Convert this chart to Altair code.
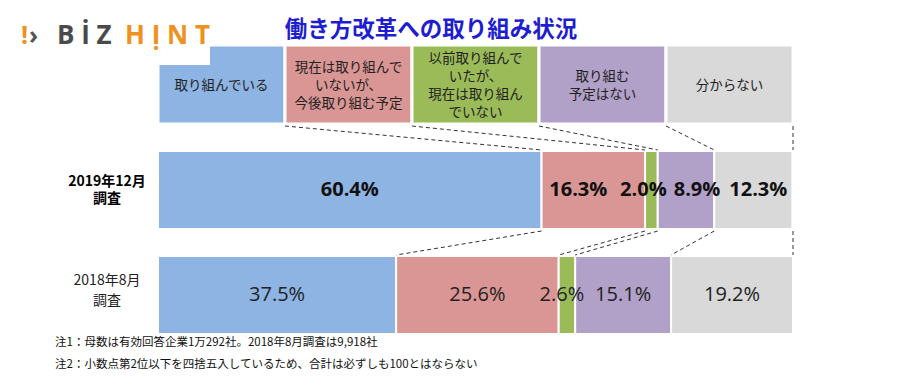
import altair as alt
import pandas as pd
import numpy as np

# ---------------- data ----------------
category_labels = [
    "取り組んでいる",
    "現在は取り組んで\nいないが、\n今後取り組む予定",
    "以前取り組んで\nいたが、\n現在は取り組ん\nでいない",
    "取り組む\n予定はない",
    "分からない",
]
colors = ["#8db4e2", "#da9694", "#9bbb59", "#b1a0c7", "#d9d9d9"]
surveys = ["2019年12月\n調査", "2018年8月\n調査"]
values_2019 = [60.4, 16.3, 2.0, 8.9, 12.3]
values_2018 = [37.5, 25.6, 2.6, 15.1, 19.2]
title_text = "働き方改革への取り組み状況"
notes = [
    "注1：母数は有効回答企業1万292社。2018年8月調査は9,918社",
    "注2：小数点第2位以下を四捨五入しているため、合計は必ずしも100とはならない",
]

# ---------------- layout (vertical band positions, in y-scale units) ----------------
LEG = (5, 84)
R19 = (111, 189)
R18 = (216, 294)
LEG_LH = 18
cats = [f"c{i}" for i in range(5)]

xs = alt.Scale(domain=[0, 100], nice=False, zero=False)
ys = alt.Scale(domain=[0, 300], reverse=True, nice=False, zero=False)
cs = alt.Scale(domain=cats, range=colors)


def first_line_y(label, center, lh):
    n = label.count("\n") + 1
    return center - (n - 1) * lh / 2


# legend boxes
leg_df = pd.DataFrame({
    "cat": cats,
    "label": category_labels,
    "x0": [i * 20 for i in range(5)],
    "x1": [(i + 1) * 20 for i in range(5)],
    "y0": LEG[0], "y1": LEG[1],
})
leg_df["xm"] = (leg_df.x0 + leg_df.x1) / 2
leg_df["ym"] = [first_line_y(l, (LEG[0] + LEG[1]) / 2 + 1, LEG_LH) for l in category_labels]

# bars
rows = []
for s_idx, (vals, (r0, r1)) in enumerate([(values_2019, R19), (values_2018, R18)]):
    cum = np.concatenate([[0], np.cumsum(vals)])
    for i, v in enumerate(vals):
        rows.append({"survey": s_idx, "cat": cats[i], "idx": i, "x0": cum[i], "x1": cum[i + 1],
                     "xm": (cum[i] + cum[i + 1]) / 2, "y0": r0, "y1": r1, "ym": (r0 + r1) / 2,
                     "txt": f"{v:.1f}%"})
bar_df = pd.DataFrame(rows)

cum19 = np.cumsum(values_2019)
cum18 = np.cumsum(values_2018)
line_rows = []
for i in range(4):
    line_rows.append({"xa": (i + 1) * 20, "xb": cum19[i], "ya": LEG[1] + 2, "yb": R19[0] - 1})
    line_rows.append({"xa": cum19[i], "xb": cum18[i], "ya": R19[1] + 2, "yb": R18[0] - 1})
line_rows.append({"xa": 100, "xb": 100, "ya": LEG[1] + 2, "yb": R19[0] - 1})
line_rows.append({"xa": 100, "xb": 100, "ya": R19[1] + 2, "yb": R18[0] - 1})
line_df = pd.DataFrame(line_rows)

one = pd.DataFrame({"a": [0]})

# ---------------- marks ----------------
leg_rect = alt.Chart(leg_df).mark_rect(stroke="white", strokeWidth=3).encode(
    x=alt.X("x0:Q", scale=xs, axis=None), x2="x1:Q",
    y=alt.Y("y0:Q", scale=ys, axis=None), y2="y1:Q",
    color=alt.Color("cat:N", scale=cs, legend=None),
)
leg_text = alt.Chart(leg_df).mark_text(
    font="Noto Sans CJK JP", fontSize=13.5, color="#222222", lineBreak="\n", lineHeight=LEG_LH,
    align="center", baseline="middle",
).encode(
    x=alt.X("xm:Q", scale=xs, axis=None), y=alt.Y("ym:Q", scale=ys, axis=None), text="label:N",
)

bars = alt.Chart(bar_df).mark_rect(stroke="white", strokeWidth=2).encode(
    x=alt.X("x0:Q", scale=xs, axis=None), x2="x1:Q",
    y=alt.Y("y0:Q", scale=ys, axis=None), y2="y1:Q",
    color=alt.Color("cat:N", scale=cs, legend=None),
)

lines = alt.Chart(line_df).mark_rule(color="#333333", strokeDash=[4, 3], strokeWidth=1).encode(
    x=alt.X("xa:Q", scale=xs, axis=None), x2="xb:Q",
    y=alt.Y("ya:Q", scale=ys, axis=None), y2="yb:Q",
)


def value_text(data_filter, bold, dx=0):
    return alt.Chart(bar_df).transform_filter(data_filter).mark_text(
        font="Open Sans", fontSize=20, fontWeight="bold" if bold else "normal",
        color="#111111" if bold else "#222222", align="center", baseline="middle", dx=dx,
    ).encode(
        x=alt.X("xm:Q", scale=xs, axis=None), y=alt.Y("ym:Q", scale=ys, axis=None), text="txt:N",
    )


vt = [
    value_text("datum.survey == 0 && datum.idx == 0", True),
    value_text("datum.survey == 0 && datum.idx == 1", True, -15),
    value_text("datum.survey == 0 && datum.idx == 2", True, -8),
    value_text("datum.survey == 0 && datum.idx == 3", True, 11),
    value_text("datum.survey == 0 && datum.idx == 4", True, 5),
    value_text("datum.survey == 1 && datum.idx != 2", False),
    value_text("datum.survey == 1 && datum.idx == 2", False, -5),
]

row_lab_df = pd.DataFrame({
    "label": surveys,
    "ym": [first_line_y(surveys[0], (R19[0] + R19[1]) / 2, 17),
           first_line_y(surveys[1], (R18[0] + R18[1]) / 2 - 4, 20)],
})
row_lab19 = alt.Chart(row_lab_df.iloc[[0]]).mark_text(
    font="Noto Sans CJK JP", fontSize=14, fontWeight="bold", color="#000000", lineBreak="\n",
    lineHeight=17, align="center", baseline="middle",
).encode(x=alt.value(-51), y=alt.Y("ym:Q", scale=ys, axis=None), text="label:N")
row_lab18 = alt.Chart(row_lab_df.iloc[[1]]).mark_text(
    font="Noto Sans CJK JP", fontSize=14, color="#222222", lineBreak="\n",
    lineHeight=20, align="center", baseline="middle",
).encode(x=alt.value(-51), y=alt.Y("ym:Q", scale=ys, axis=None), text="label:N")

title_mark = alt.Chart(one).mark_text(
    font="Noto Sans CJK JP", fontSize=22.5, fontWeight="bold", color="#1e1ed0",
    align="center", baseline="middle", text=title_text,
).encode(x=alt.value(273), y=alt.value(-10))


def note_mark(txt, py):
    return alt.Chart(one).mark_text(
        font="Noto Sans CJK JP", fontSize=11.5, color="#111111", align="left", baseline="middle", text=txt,
    ).encode(x=alt.value(-103), y=alt.value(py))


notes_marks = [note_mark(notes[0], 303), note_mark(notes[1], 325)]

# logo
logo_bg = alt.Chart(one).mark_rect(color="white").encode(
    x=alt.value(-150), x2=alt.value(52), y=alt.value(-32), y2=alt.value(25),
)


def logo_mark(txt, col, px, size=26):
    return alt.Chart(one).mark_text(
        font="Open Sans", fontSize=size, fontWeight="bold", align="left", baseline="middle",
        color=col, text=txt,
    ).encode(x=alt.value(px), y=alt.value(-4))


logo = [
    logo_mark("!", "#f0901e", -137, 25),
    logo_mark("›", "#555555", -129, 25),
    logo_mark("B İ Z", "#4a4a4a", -101),
    logo_mark("H Ị N T", "#f0901e", -33),
]

chart = alt.layer(
    leg_rect, leg_text, bars, lines, *vt, row_lab19, row_lab18, title_mark, *notes_marks, logo_bg, *logo,
).properties(
    width=635, height=300,
    autosize=alt.AutoSizeParams(type="none"),
    padding={"left": 150, "top": 32, "right": 99, "bottom": 40},
).configure_view(strokeWidth=0)

chart.save("out.html", embed_options={"renderer": "svg", "actions": False})
